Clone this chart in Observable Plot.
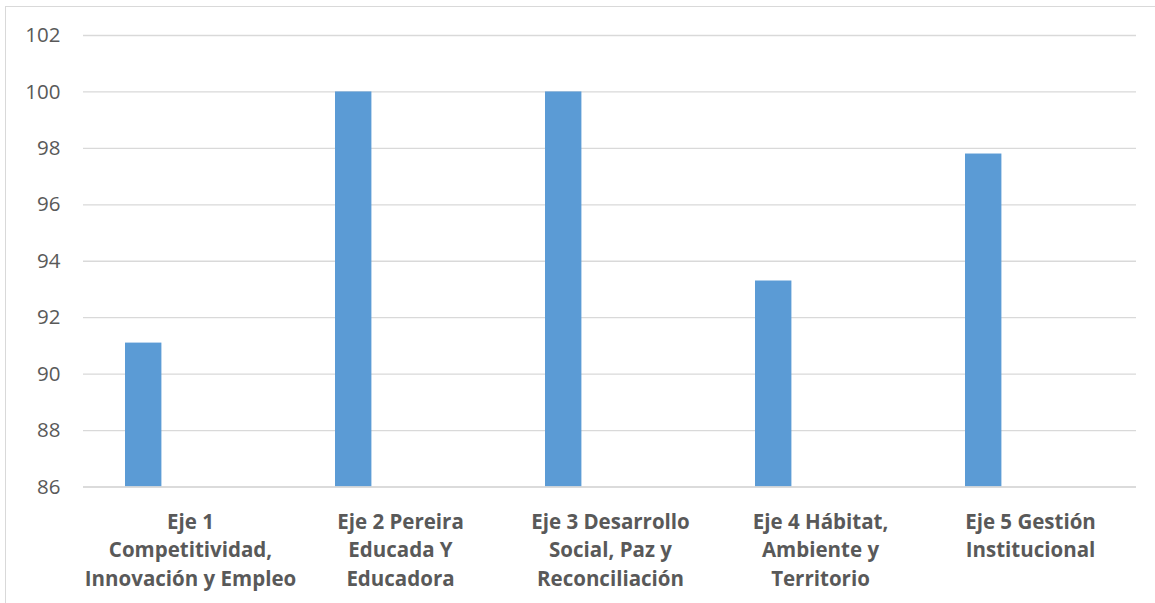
<!DOCTYPE html>
<html>
<head>
<meta charset="utf-8">
<script src="https://cdn.jsdelivr.net/npm/d3@7"></script>
<script src="https://cdn.jsdelivr.net/npm/@observablehq/plot@0.6"></script>
<style>
  html, body { margin: 0; padding: 0; background: #fff; }
  #wrap { position: relative; width: 1155px; height: 603px; overflow: hidden; }
  #frame { position: absolute; left: 5px; top: 6px; width: 1200px; height: 700px;
           border-left: 1px solid #d9d9d9; border-top: 1px solid #d9d9d9; }
  #chart { position: absolute; left: 0; top: 0; }
</style>
</head>
<body>
<div id="wrap"><div id="frame"></div><div id="chart"></div></div>
<script>
const categories = [
  "Eje 1\nCompetitividad,\nInnovación y Empleo",
  "Eje 2 Pereira\nEducada Y\nEducadora",
  "Eje 3 Desarrollo\nSocial, Paz y\nReconciliación",
  "Eje 4 Hábitat,\nAmbiente y\nTerritorio",
  "Eje 5 Gestión\nInstitucional"
];
const values = [91.1, 100, 100, 93.3, 97.8];
const yTicks = [86, 88, 90, 92, 94, 96, 98, 100, 102];

const data = categories.map((c, i) => ({cat: c, value: values[i]}));
const yMin = yTicks[0];

const chart = Plot.plot({
  width: 1155,
  height: 603,
  marginLeft: 83,
  marginRight: 19,
  marginTop: 35,
  marginBottom: 116.5,
  style: {fontFamily: "'Open Sans', sans-serif", color: "#595959", background: "transparent"},
  x: {type: "band", domain: categories, padding: 0},
  y: {domain: [yTicks[0], yTicks[yTicks.length - 1]]},
  marks: [
    Plot.gridY(yTicks, {stroke: "#d9d9d9", strokeOpacity: 1, strokeWidth: 1.3}),
    Plot.barY(data, {x: "cat", y1: () => yMin, y2: "value", fill: "#5b9bd5",
                     insetLeft: 40, insetRight: 133.6}),
    Plot.ruleY([yMin], {stroke: "#d9d9d9", strokeWidth: 1.3}),
    Plot.axisY({ticks: yTicks, tickSize: 0, tickPadding: 23, fontSize: 20.5,
                fill: "#595959", label: null}),
    Plot.axisX({tickSize: 0, tickPadding: 22, fontSize: 20.5, fontWeight: "bold",
                lineHeight: 1.38, fill: "#595959", label: null})
  ]
});
document.getElementById("chart").appendChild(chart);
</script>
</body>
</html>
